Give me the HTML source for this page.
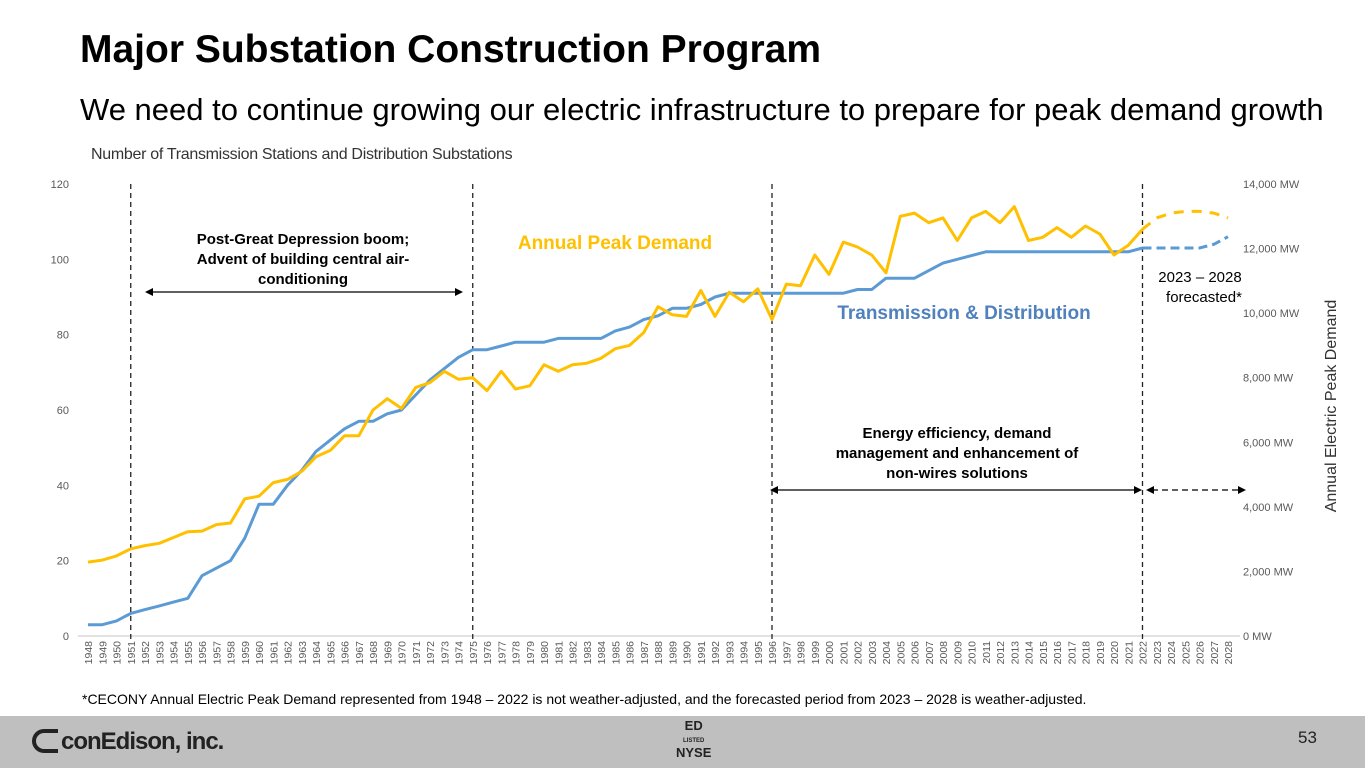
<!DOCTYPE html>
<html><head><meta charset="utf-8"><style>
body{margin:0;width:1365px;height:768px;background:#fff;font-family:"Liberation Sans",Arial,sans-serif;position:relative;overflow:hidden}
.t{position:absolute;white-space:nowrap}
</style></head><body>
<div class="t" style="left:80px;top:28px;font-size:39px;font-weight:bold;color:#000">Major Substation Construction Program</div>
<div class="t" style="left:80px;top:92px;font-size:31px;color:#000">We need to continue growing our electric infrastructure to prepare for peak demand growth</div>
<div class="t" style="left:91px;top:146px;font-size:16px;color:#333;letter-spacing:-0.3px">Number of Transmission Stations and Distribution Substations</div>
<svg id="chart" width="1365" height="710" style="position:absolute;left:0;top:0"></svg>
<div class="t" style="left:82px;top:691px;font-size:14px;color:#000">*CECONY Annual Electric Peak Demand represented from 1948 – 2022 is not weather-adjusted, and the forecasted period from 2023 – 2028 is weather-adjusted.</div>
<div style="position:absolute;left:0;top:716px;width:1365px;height:52px;background:#bfbfbf"></div>
<div class="t" style="left:32px;top:728px;font-size:24px;font-weight:bold;color:#222;letter-spacing:-1px"><span style="display:inline-block;width:26px;height:24px;border:4px solid #222;border-right:none;border-radius:14px 0 0 14px;box-sizing:border-box;vertical-align:-4px;margin-right:3px"></span>conEdison, inc.</div>
<div class="t" style="left:676px;top:720px;font-size:13px;font-weight:bold;color:#222;text-align:center;line-height:12px">ED<br><span style="font-size:6px">LISTED</span><br>NYSE</div>
<div class="t" style="left:1298px;top:728px;font-size:17px;color:#222">53</div>
<script>
const years=[];for(let y=1948;y<=2028;y++)years.push(y);
const leftTicks=[0,20,40,60,80,100,120];
const rightTicks=[0,2000,4000,6000,8000,10000,12000,14000];
const tdYears=[1948,1949,1950,1951,1952,1953,1954,1955,1956,1957,1958,1959,1960,1961,1962,1963,1964,1965,1966,1967,1968,1969,1970,1971,1972,1973,1974,1975,1976,1977,1978,1979,1980,1981,1982,1983,1984,1985,1986,1987,1988,1989,1990,1991,1992,1993,1994,1995,1996,1997,1998,1999,2000,2001,2002,2003,2004,2005,2006,2007,2008,2009,2010,2011,2012,2013,2014,2015,2016,2017,2018,2019,2020,2021,2022];
const tdValues=[3,3,4,6,7,8,9,10,16,18,20,26,35,35,40,44,49,52,55,57,57,59,60,64,68,71,74,76,76,77,78,78,78,79,79,79,79,81,82,84,85,87,87,88,90,91,91,91,91,91,91,91,91,91,92,92,95,95,95,97,99,100,101,102,102,102,102,102,102,102,102,102,102,102,103];
const tdFcYears=[2022,2023,2024,2025,2026,2027,2028];
const tdFcValues=[103,103,103,103,103,104,106];
const pdValues=[2290,2350,2480,2700,2800,2870,3050,3230,3250,3450,3500,4250,4330,4750,4850,5100,5550,5750,6200,6200,7000,7350,7050,7700,7850,8200,7950,8000,7600,8200,7650,7750,8400,8200,8400,8450,8600,8900,9000,9400,10200,9950,9900,10700,9900,10650,10350,10750,9800,10900,10850,11800,11200,12200,12050,11800,11250,13000,13100,12800,12950,12250,12950,13150,12800,13300,12250,12350,12650,12350,12700,12450,11800,12100,12600];
const pdFcYears=[2022,2023,2024,2025,2026,2027,2028];
const pdFcValues=[12600,12950,13100,13150,13150,13100,12950];
const phaseYears=[1951,1975,1996,2022];

const svg=document.getElementById('chart');const NS='http://www.w3.org/2000/svg';
const X0=88,XS=14.25,Y0=636,YT=184;
const x=y=>X0+(y-1948)*XS;
const yL=v=>Y0-(v/120)*(Y0-YT);
const yR=v=>Y0-(v/14000)*(Y0-YT);
function el(tag,attrs,txt){const e=document.createElementNS(NS,tag);for(const k in attrs)e.setAttribute(k,attrs[k]);if(txt!=null)e.textContent=txt;svg.appendChild(e);return e;}
let a=el('line',{x1:78,x2:1240,y1:Y0,y2:Y0,stroke:'#d9d9d9','stroke-width':1.5});

leftTicks.forEach(v=>{const t=el('text',{x:69,y:yL(v)+4,'font-size':11,fill:'#595959','text-anchor':'end','font-family':'Liberation Sans'},v);
});
rightTicks.forEach(v=>{const t=el('text',{x:1243,y:yR(v)+4,'font-size':11,fill:'#595959','font-family':'Liberation Sans'},(v===0?'0':v.toLocaleString('en-US'))+' MW');
});
years.forEach(yr=>{const t=el('text',{transform:`translate(${x(yr)+4},641) rotate(-90)`,'font-size':10.5,fill:'#595959','text-anchor':'end','font-family':'Liberation Sans'},yr);
});
let rt=el('text',{transform:'translate(1336,406) rotate(-90)','font-size':16,fill:'#333','text-anchor':'middle','font-family':'Liberation Sans'},'Annual Electric Peak Demand');

phaseYears.forEach(yr=>{const l=el('line',{x1:x(yr),x2:x(yr),y1:184,y2:640,stroke:'#222','stroke-width':1.3,'stroke-dasharray':'5,4'});
});
function path(xs,vs,f){return xs.map((yr,i)=>(i?'L':'M')+x(yr).toFixed(1)+','+f(vs[i]).toFixed(1)).join(' ');}
let p=el('path',{d:path(tdYears,tdValues,yL),fill:'none',stroke:'#5b9bd5','stroke-width':3,'stroke-linejoin':'round'});

p=el('path',{d:path(tdFcYears,tdFcValues,yL),fill:'none',stroke:'#5b9bd5','stroke-width':3,'stroke-dasharray':'9,5'});

const pdYears=years.filter(y=>y<=2022);
p=el('path',{d:path(pdYears,pdValues,yR),fill:'none',stroke:'#ffc000','stroke-width':3,'stroke-linejoin':'round'});

p=el('path',{d:path(pdFcYears,pdFcValues,yR),fill:'none',stroke:'#ffc000','stroke-width':3,'stroke-dasharray':'10,8'});

function lbl(name,xx,yy,txt,sz,col,w,anchor){const t=el('text',{x:xx,y:yy,'font-size':sz,fill:col,'font-weight':w||'normal','text-anchor':anchor||'middle','font-family':'Liberation Sans'},txt);
}
lbl('phase1-label',303,244,'Post-Great Depression boom;',15,'#000','bold');
lbl('phase1-label',303,264,'Advent of building central air-',15,'#000','bold');
lbl('phase1-label',303,284,'conditioning',15,'#000','bold');
lbl('peak-demand-legend',615,249,'Annual  Peak  Demand',19,'#ffc000','bold');
lbl('td-legend',964,319,'Transmission  &  Distribution',19,'#4f81bd','bold');
lbl('phase3-label',957,438,'Energy efficiency, demand',15,'#000','bold');
lbl('phase3-label',957,458,'management and enhancement of',15,'#000','bold');
lbl('phase3-label',957,478,'non-wires solutions',15,'#000','bold');
lbl('forecast-label',1200,282,'2023 – 2028',15,'#000');
lbl('forecast-label',1204,302,'forecasted*',15,'#000');
function arrow(name,x1,x2,yy,dash){const l=el('line',{x1:x1+6,x2:x2-6,y1:yy,y2:yy,stroke:'#000','stroke-width':1.3});if(dash)l.setAttribute('stroke-dasharray','6,4');

el('path',{d:`M${x1},${yy} l8,-4 v8 z`,fill:'#000'});el('path',{d:`M${x2},${yy} l-8,-4 v8 z`,fill:'#000'});}
arrow('phase1-arrow',145,463,292);
arrow('phase3-arrow',770,1142,490);
arrow('forecast-arrow',1146,1246,490,true);
</script>
</body></html>
